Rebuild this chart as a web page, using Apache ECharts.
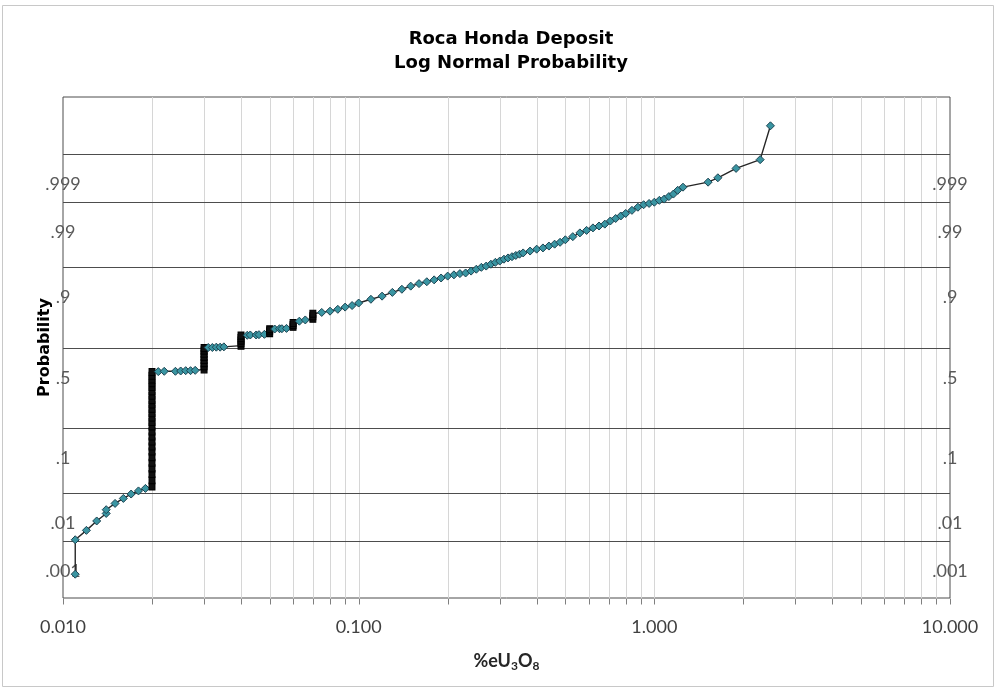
<!DOCTYPE html>
<html>
<head>
<meta charset="utf-8">
<title>Roca Honda Deposit - Log Normal Probability</title>
<script src="https://cdn.jsdelivr.net/npm/echarts@6/dist/echarts.min.js"></script>
<style>
  html, body { margin: 0; padding: 0; background: #fff; }
  #chart { width: 997px; height: 691px; }
</style>
</head>
<body>
<div id="chart"></div>
<script>
// %eU3O8 grade vs normal score (probit of cumulative probability)
const lowerTail = [
  [0.011, -3.62], [0.011, -3.07], [0.012, -2.92], [0.013, -2.77], [0.014, -2.65],
  [0.014, -2.59], [0.015, -2.49], [0.016, -2.41], [0.017, -2.34], [0.018, -2.29],
  [0.019, -2.25]
];
const assaySteps = [
  // 0.020 stack
  [0.020, -2.22], [0.020, -2.12], [0.020, -2.02], [0.020, -1.93], [0.020, -1.84],
  [0.020, -1.75], [0.020, -1.66], [0.020, -1.58], [0.020, -1.50], [0.020, -1.42],
  [0.020, -1.34], [0.020, -1.26], [0.020, -1.19], [0.020, -1.12], [0.020, -1.05],
  [0.020, -0.98], [0.020, -0.91], [0.020, -0.84], [0.020, -0.77], [0.020, -0.70],
  [0.020, -0.63], [0.020, -0.57], [0.020, -0.51], [0.020, -0.45], [0.020, -0.39],
  [0.021, -0.385], [0.022, -0.38], [0.024, -0.38], [0.025, -0.375], [0.026, -0.37],
  [0.027, -0.37], [0.028, -0.365],
  // 0.030 stack
  [0.030, -0.35], [0.030, -0.30], [0.030, -0.25], [0.030, -0.20], [0.030, -0.15],
  [0.030, -0.10], [0.030, -0.05], [0.030, -0.01],
  [0.031, 0.0], [0.032, 0.0], [0.033, 0.005], [0.034, 0.005], [0.035, 0.01],
  // 0.040 stack
  [0.040, 0.03], [0.040, 0.07], [0.040, 0.11], [0.040, 0.15], [0.040, 0.19],
  [0.042, 0.195], [0.043, 0.2], [0.045, 0.2], [0.046, 0.205], [0.048, 0.21],
  [0.050, 0.23], [0.050, 0.26], [0.050, 0.29],
  [0.052, 0.295], [0.054, 0.30], [0.055, 0.30], [0.057, 0.305],
  [0.060, 0.33], [0.060, 0.36], [0.060, 0.39],
  [0.063, 0.42], [0.066, 0.44],
  [0.070, 0.46], [0.070, 0.50], [0.070, 0.54],
  [0.075, 0.56], [0.080, 0.58], [0.085, 0.61], [0.090, 0.645], [0.095, 0.67]
];
const upperBody = [
  [0.10, 0.71], [0.11, 0.77], [0.12, 0.82], [0.13, 0.88], [0.14, 0.93], [0.15, 0.98],
  [0.16, 1.02], [0.17, 1.05], [0.18, 1.08], [0.19, 1.11], [0.20, 1.14], [0.21, 1.16],
  [0.22, 1.18], [0.23, 1.19], [0.24, 1.22], [0.25, 1.25], [0.26, 1.28], [0.27, 1.30],
  [0.28, 1.33], [0.29, 1.36], [0.30, 1.38], [0.31, 1.41], [0.32, 1.43], [0.33, 1.45],
  [0.34, 1.47], [0.35, 1.49], [0.36, 1.51], [0.38, 1.54], [0.40, 1.57], [0.42, 1.59],
  [0.44, 1.62], [0.46, 1.65], [0.48, 1.68], [0.50, 1.72], [0.53, 1.77], [0.56, 1.83],
  [0.59, 1.87], [0.62, 1.91], [0.65, 1.94], [0.68, 1.97], [0.71, 2.02], [0.74, 2.06],
  [0.77, 2.10], [0.80, 2.14], [0.84, 2.19], [0.88, 2.24], [0.92, 2.28], [0.96, 2.30],
  [1.00, 2.32], [1.04, 2.35], [1.08, 2.37], [1.12, 2.41], [1.16, 2.45], [1.20, 2.51],
  [1.25, 2.56]
];
const upperTail = [
  [1.52, 2.64], [1.64, 2.71], [1.89, 2.86], [2.28, 3.00], [2.47, 3.54]
];

const probLevels = [0.001, 0.01, 0.1, 0.5, 0.9, 0.99, 0.999];
const probLabels = ['.001', '.01', '.1', '.5', '.9', '.99', '.999'];

const X_MIN = 0.01, X_MAX = 10;
const Y_MIN = -4, Y_MAX = 4;

// inverse standard normal cdf (Acklam)
function normInv(p) {
  const a = [-39.69683028665376, 220.9460984245205, -275.9285104469687, 138.3577518672690, -30.66479806614716, 2.506628277459239];
  const b = [-54.47609879822406, 161.5858368580409, -155.6989798598866, 66.80131188771972, -13.28068155288572];
  const c = [-0.007784894002430293, -0.3223964580411365, -2.400758277161838, -2.549732539343734, 4.374664141464968, 2.938163982698783];
  const d = [0.007784695709041462, 0.3224671290700398, 2.445134137142996, 3.754408661907416];
  const pl = 0.02425;
  let q, r;
  if (p < pl) {
    q = Math.sqrt(-2 * Math.log(p));
    return (((((c[0]*q+c[1])*q+c[2])*q+c[3])*q+c[4])*q+c[5]) / ((((d[0]*q+d[1])*q+d[2])*q+d[3])*q+1);
  }
  if (p > 1 - pl) {
    q = Math.sqrt(-2 * Math.log(1 - p));
    return -(((((c[0]*q+c[1])*q+c[2])*q+c[3])*q+c[4])*q+c[5]) / ((((d[0]*q+d[1])*q+d[2])*q+d[3])*q+1);
  }
  q = p - 0.5; r = q * q;
  return (((((a[0]*r+a[1])*r+a[2])*r+a[3])*r+a[4])*r+a[5])*q / (((((b[0]*r+b[1])*r+b[2])*r+b[3])*r+b[4])*r+1);
}

// log grid positions 1..9 per decade
const logGrid = [];
for (let dec = X_MIN; dec < X_MAX * 0.999; dec *= 10) {
  for (let k = 1; k <= 9; k++) logGrid.push(+(dec * k).toPrecision(3));
}
logGrid.push(X_MAX);

const samples = [...lowerTail, ...assaySteps, ...upperBody, ...upperTail];

// length of the run of equal grades each sample sits in
const runLen = samples.map(() => 1);
for (let i = 0; i < samples.length; ) {
  let j = i;
  while (j + 1 < samples.length && samples[j + 1][0] === samples[i][0]) j++;
  for (let k = i; k <= j; k++) runLen[k] = j - i + 1;
  i = j + 1;
}
// repeated assay values plot as solid dark stacks
const lineData = samples.map((pt, i) => runLen[i] >= 3
  ? { value: pt, symbol: 'rect', symbolSize: [6, 7], itemStyle: { color: '#111', borderColor: '#000' } }
  : { value: pt });

const chart = echarts.init(document.getElementById('chart'));
const labelFont = '18px Lato';

chart.setOption({
  animation: false,
  backgroundColor: '#fff',
  graphic: [{
    type: 'rect', silent: true, z: -10,
    shape: { x: 2.5, y: 5.5, width: 991, height: 681 },
    style: { fill: 'none', stroke: '#c8c8c8', lineWidth: 1 }
  }],
  title: {
    text: 'Roca Honda Deposit\nLog Normal Probability',
    left: 506, top: 22, textAlign: 'center',
    textStyle: { fontFamily: 'DejaVu Sans', fontWeight: 'bold', fontSize: 18, lineHeight: 24, color: '#000' }
  },
  grid: { left: 63, right: 47, top: 97, bottom: 93, show: true, borderColor: '#4d4d4d', borderWidth: 1 },
  xAxis: {
    type: 'log', logBase: 10, min: X_MIN, max: X_MAX,
    name: '%eU{s|3}O{s|8}', nameLocation: 'middle', nameGap: 52,
    nameTextStyle: {
      fontFamily: 'Lato', fontWeight: 'bold', fontSize: 18, color: '#262626',
      rich: { s: { fontFamily: 'Lato', fontWeight: 'bold', fontSize: 12, color: '#262626', padding: [10, 0, 0, 0] } }
    },
    axisLine: { show: false }, axisTick: { show: false }, splitLine: { show: false },
    axisLabel: { fontFamily: 'Lato', fontSize: 18, color: '#404040', margin: 20, formatter: v => v.toFixed(3) }
  },
  yAxis: {
    type: 'value', min: Y_MIN, max: Y_MAX,
    name: 'Probability', nameLocation: 'middle', nameGap: 10, nameRotate: 90,
    nameTextStyle: { fontFamily: 'DejaVu Sans', fontWeight: 'bold', fontSize: 16, color: '#000' },
    axisLine: { show: false }, axisTick: { show: false }, axisLabel: { show: false }, splitLine: { show: false }
  },
  series: [
    {
      // vertical log grid + ticks under the axis
      type: 'custom', silent: true, z: 1, clip: false,
      data: logGrid.map(v => [v, Y_MIN]),
      encode: { x: 0, y: 1 },
      renderItem: (params, api) => {
        const v = api.value(0);
        const b = api.coord([v, Y_MIN]);
        const t = api.coord([v, Y_MAX]);
        const x = Math.round(b[0]) + 0.5;
        const yb = Math.round(b[1]) + 0.5;
        const children = [{
          type: 'line', shape: { x1: x, y1: yb, x2: x, y2: yb + 6 },
          style: { stroke: '#7f7f7f', lineWidth: 1 }
        }];
        if (v > X_MIN && v < X_MAX) {
          children.push({
            type: 'line', shape: { x1: x, y1: yb, x2: x, y2: t[1] },
            style: { stroke: '#d6d6d6', lineWidth: 1 }
          });
        }
        return { type: 'group', children };
      }
    },
    {
      // probability gridlines with labels on both sides
      type: 'custom', silent: true, z: 2, clip: false,
      data: probLevels.map((p, i) => [X_MIN, normInv(p), i]),
      encode: { x: 0, y: 1 },
      renderItem: (params, api) => {
        const l = api.coord([X_MIN, api.value(1)]);
        const r = api.coord([X_MAX, api.value(1)]);
        const y = Math.round(l[1]) + 0.5;
        const text = probLabels[api.value(2)];
        const ts = { text, fill: '#595959', font: labelFont, align: 'center', verticalAlign: 'middle' };
        return {
          type: 'group', children: [
            { type: 'line', shape: { x1: l[0], y1: y, x2: r[0], y2: y }, style: { stroke: '#4d4d4d', lineWidth: 1 } },
            { type: 'text', x: l[0], y: y + 30, style: Object.assign({}, ts) },
            { type: 'text', x: r[0], y: y + 30, style: Object.assign({}, ts) }
          ]
        };
      }
    },
    {
      type: 'line', name: 'Samples', z: 3,
      data: lineData,
      symbol: 'diamond', symbolSize: 8, showAllSymbol: true,
      lineStyle: { color: '#262626', width: 1.4 },
      itemStyle: { color: '#3a95a2', borderColor: '#1d4452', borderWidth: 1 }
    }
  ]
});
</script>
</body>
</html>
